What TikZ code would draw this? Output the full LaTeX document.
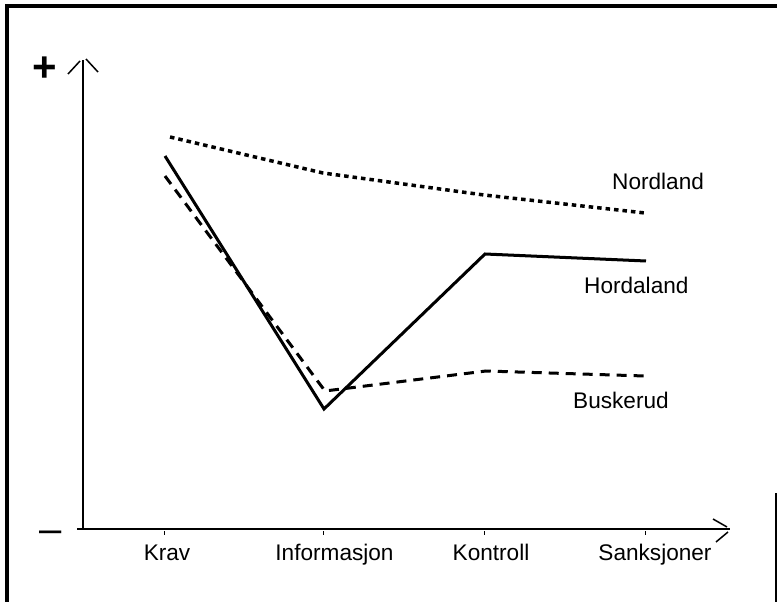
\documentclass[tikz,border=0pt]{standalone}
\usepackage{fontspec}
\setmainfont{Liberation Sans}
\begin{document}
\begin{tikzpicture}[x=1pt,y=-1pt,
  axis/.style={line width=1.3pt},
  tip/.style={line width=1.5pt},
  tick/.style={line width=1pt},
  frame/.style={line width=4pt},
  lbl/.style={inner sep=0pt,anchor=base west,font=\fontsize{22.6}{27}\selectfont},
  cat/.style={inner sep=0pt,anchor=base,font=\fontsize{22.6}{27}\selectfont},
  hord/.style={line width=3pt,line join=miter},
  busk/.style={line width=3pt,dash pattern=on 10pt off 7pt},
  nord/.style={line width=3.5pt,dash pattern=on 4.5pt off 4pt}]
\useasboundingbox (0,0) rectangle (777,602);
% frame
\draw[frame] (5,6) -- (777,6);
\draw[frame] (7,6) -- (7,602);
\draw[line width=2pt] (776,493) -- (776,602);
% axes
\coordinate (O) at (83,529);
\coordinate (Y) at (83,60);
\coordinate (X0) at (77,529);
\coordinate (X) at (730,529);
\draw[axis] (O) -- (Y);
\draw[axis] (X0) -- (X);
\draw[tip] (68,74) -- (80,61);
\draw[tip] (86,59) -- (98,72);
\draw[tip] (713,519) -- (727,527);
\draw[tip] (716,542) -- (728,532);
\node[inner sep=0pt,font=\fontsize{42}{48}\selectfont\bfseries] (plus) at (44.5,69.5) {+};
\node[inner sep=0pt,font=\fontsize{40}{48}\selectfont] (minus) at (51,537) {–};
% ticks and categories
\coordinate (t1) at (164,531);
\coordinate (t2) at (323,531);
\coordinate (t3) at (484,531);
\coordinate (t4) at (645,531);
\foreach \t in {t1,t2,t3,t4} \draw[tick] (\t) -- ++(0,4);
\node[cat] (krav) at (167,560) {Krav};
\node[cat] (info) at (334.5,560) {Informasjon};
\node[cat] (kontr) at (491,560) {Kontroll};
\node[cat] (sank) at (655,560) {Sanksjoner};
% data
\coordinate (n1) at (170,137);
\coordinate (n2) at (323,173);
\coordinate (n3) at (484,195);
\coordinate (n4) at (645,213);
\coordinate (h1) at (165,156);
\coordinate (h2) at (324,409);
\coordinate (h3) at (485,254);
\coordinate (h4) at (646,261);
\coordinate (b1) at (165,176);
\coordinate (b2) at (325,391);
\coordinate (b3) at (486,371);
\coordinate (b4) at (645,376);
\draw[nord] (n1) -- (n2) -- (n3) -- (n4);
\draw[hord] (h1) -- (h2) -- (h3) -- (h4);
\draw[busk] (b1) -- (b2) -- (b3) -- (b4);
\node[lbl] (nordl) at (612,189) {Nordland};
\node[lbl] (hordl) at (584,293) {Hordaland};
\node[lbl] (buskl) at (573,408) {Buskerud};
\end{tikzpicture}
\end{document}
